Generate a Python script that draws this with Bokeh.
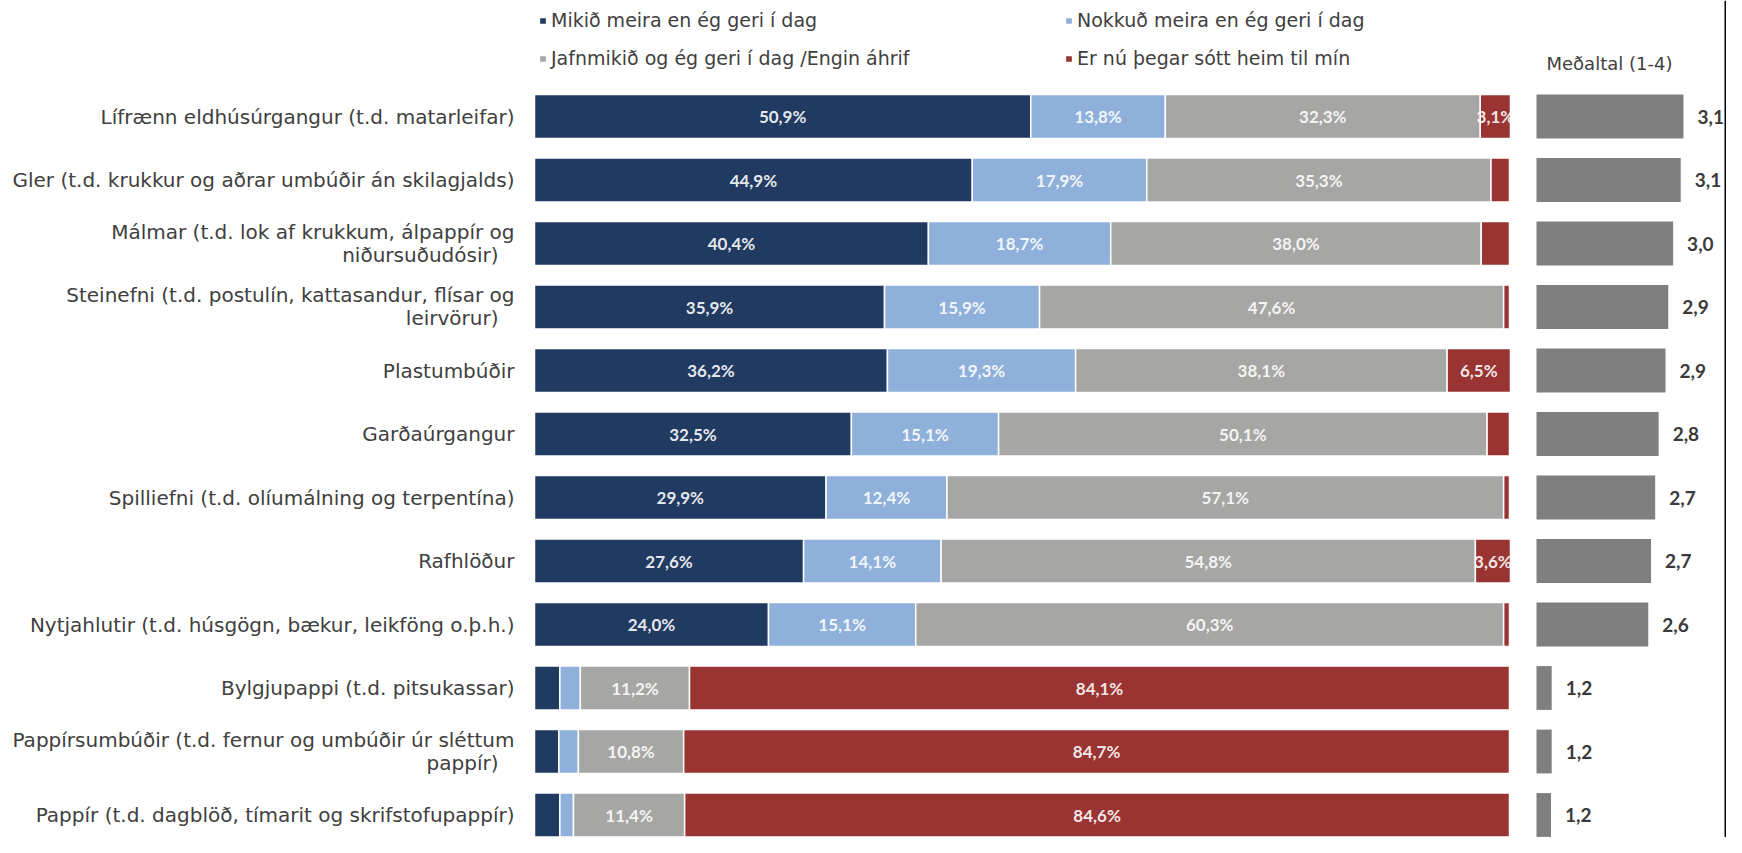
from bokeh.plotting import figure
from bokeh.models import Range1d, ColumnDataSource, Legend, LegendItem, Span
from bokeh.core.properties import value
from bokeh.embed import file_html
from bokeh.resources import INLINE

# ---------------- data ----------------
categories = [
    "Lífrænn eldhúsúrgangur (t.d. matarleifar)",
    "Gler (t.d. krukkur og aðrar umbúðir án skilagjalds)",
    "Málmar (t.d. lok af krukkum, álpappír og\nniðursuðudósir)",
    "Steinefni (t.d. postulín, kattasandur, flísar og\nleirvörur)",
    "Plastumbúðir",
    "Garðaúrgangur",
    "Spilliefni (t.d. olíumálning og terpentína)",
    "Rafhlöður",
    "Nytjahlutir (t.d. húsgögn, bækur, leikföng o.þ.h.)",
    "Bylgjupappi (t.d. pitsukassar)",
    "Pappírsumbúðir (t.d. fernur og umbúðir úr sléttum\npappír)",
    "Pappír (t.d. dagblöð, tímarit og skrifstofupappír)",
]
mikid = [50.9, 44.9, 40.4, 35.9, 36.2, 32.5, 29.9, 27.6, 24.0, 2.6, 2.5, 2.6]
nokkud = [13.8, 17.9, 18.7, 15.9, 19.3, 15.1, 12.4, 14.1, 15.1, 2.1, 2.0, 1.4]
jafn = [32.3, 35.3, 38.0, 47.6, 38.1, 50.1, 57.1, 54.8, 60.3, 11.2, 10.8, 11.4]
sott = [3.1, 1.9, 2.9, 0.6, 6.5, 2.3, 0.6, 3.6, 0.6, 84.1, 84.7, 84.6]
means = [3.13, 3.09, 2.98, 2.91, 2.87, 2.77, 2.72, 2.66, 2.62, 1.22, 1.22, 1.21]
series_names = [
    "Mikið meira en ég geri í dag",
    "Nokkuð meira en ég geri í dag",
    "Jafnmikið og ég geri í dag /Engin áhrif",
    "Er nú þegar sótt heim til mín",
]
mean_title = "Meðaltal (1-4)"

# ---------------- style / layout ----------------
colors = ["#203a61", "#8eb0da", "#a6a6a4", "#9a3432"]
MEAN_COLOR = "#7f7f7f"
TEXT_COLOR = "#404040"
LABEL_FONT = "DejaVu Sans"
NUM_FONT = "Lato"

W, H = 1726, 837
ORIGIN = 0
PX_ZERO, PX_PER_PCT = 534, 9.75
PX_MEAN_ONE, PX_PER_UNIT = 1536, 69.0
ROW0_Y, ROW_STEP = 116.0, 63.5
BAR_H = 0.69

x_start = (ORIGIN - PX_ZERO) / PX_PER_PCT
x_end = (ORIGIN + W - PX_ZERO) / PX_PER_PCT
m_start = 1 - (PX_MEAN_ONE - ORIGIN) / PX_PER_UNIT
m_end = 1 + (ORIGIN + W - PX_MEAN_ONE) / PX_PER_UNIT
y_top = -(ROW0_Y - ORIGIN) / ROW_STEP
y_bottom = (ORIGIN + H - ROW0_Y) / ROW_STEP

n = len(categories)
ypos = list(range(n))

p = figure(width=W, height=H,
           x_range=Range1d(x_start, x_end), y_range=Range1d(y_bottom, y_top),
           x_axis_type=None, y_axis_type=None,
           toolbar_location=None, output_backend="svg", min_border=0)
p.extra_x_ranges = {"mean": Range1d(m_start, m_end)}
p.outline_line_color = None
p.background_fill_color = "white"
p.border_fill_color = "white"

keys = ["mikid", "nokkud", "jafn", "sott"]
src = ColumnDataSource(dict(y=ypos, mikid=mikid, nokkud=nokkud, jafn=jafn, sott=sott))
renderers = p.hbar_stack(keys, y="y", height=BAR_H, fill_color=colors,
                         line_color="white", line_width=1.5, source=src)

# segment labels
lab_x, lab_y, lab_t = [], [], []
for i in range(n):
    left = 0.0
    for vals in (mikid, nokkud, jafn, sott):
        v = vals[i]
        if v >= 3.0:
            lab_x.append(left + v / 2)
            lab_y.append(i)
            lab_t.append(f"{v:.1f}%".replace(".", ","))
        left += v
p.text(x=lab_x, y=lab_y, text=lab_t, text_align="center", text_baseline="middle",
       text_font=value(NUM_FONT), text_font_style="bold", text_font_size="17px",
       text_color="white", text_alpha=0.9)

# category labels
one_y, one_t = [], []
l1_y, l1_t, l2_y, l2_t = [], [], [], []
for i, c in enumerate(categories):
    parts = c.split("\n")
    if len(parts) == 1:
        one_y.append(i); one_t.append(parts[0])
    else:
        l1_y.append(i); l1_t.append(parts[0])
        l2_y.append(i); l2_t.append(parts[1])
common = dict(text_align="right", text_baseline="middle", text_font=value(LABEL_FONT),
              text_font_size="20px", text_color=TEXT_COLOR)
p.text(x=[0] * len(one_y), y=one_y, text=one_t, x_offset=-20, **common)
p.text(x=[0] * len(l1_y), y=l1_y, text=l1_t, x_offset=-20, y_offset=-12, **common)
p.text(x=[0] * len(l2_y), y=l2_y, text=l2_t, x_offset=-36, y_offset=11, **common)

# mean bars
p.hbar(y=ypos, left=1, right=means, height=BAR_H, fill_color=MEAN_COLOR,
       line_color=None, x_range_name="mean")
p.text(x=means, y=ypos, text=[f"{m:.1f}".replace(".", ",") for m in means],
       x_offset=14, x_range_name="mean", text_align="left", text_baseline="middle",
       text_font=value(NUM_FONT), text_font_style="bold", text_font_size="19px",
       text_color="#3a3a3a")
p.text(x=[1], y=[0], text=[mean_title], x_offset=10, y_offset=-53, x_range_name="mean",
       text_align="left", text_baseline="middle", text_font=value(LABEL_FONT),
       text_font_size="18px", text_color=TEXT_COLOR)

# legends (two rows of two)
def make_legend(idx, center_y):
    items = [LegendItem(label=series_names[k], renderers=[renderers[k]]) for k in idx]
    lh = 22
    return Legend(items=items, orientation="horizontal",
                  location=(538 - ORIGIN, H - (center_y - ORIGIN) - lh / 2),
                  padding=0, margin=0, spacing=0, label_standoff=4,
                  glyph_width=9, glyph_height=9, label_width=513, label_height=lh,
                  label_text_font=LABEL_FONT, label_text_font_size="19px",
                  label_text_color=TEXT_COLOR, background_fill_alpha=0,
                  border_line_color=None)

p.add_layout(make_legend([0, 1], 20))
p.add_layout(make_legend([2, 3], 58))

p.add_layout(Span(location=x_end - 0.1, dimension="height", line_color="black", line_width=2))

open("out.html", "w").write(file_html(p, INLINE))
